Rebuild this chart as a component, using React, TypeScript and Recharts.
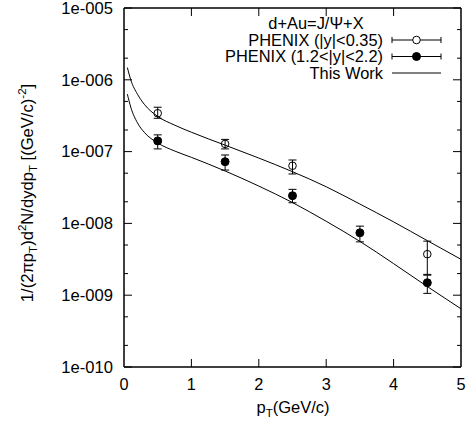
import React from 'react';
import { ComposedChart, Line, Scatter, ErrorBar, XAxis, YAxis } from 'recharts';

// ---- axes ----
const xTicks = [0, 1, 2, 3, 4, 5];
const yMajorTicks = [1e-10, 1e-9, 1e-8, 1e-7, 1e-6, 1e-5];
const yMajorLabels = ['1e-010', '1e-009', '1e-008', '1e-007', '1e-006', '1e-005'];
const yMinorTicks = [2e-10, 5e-10, 2e-9, 5e-9, 2e-8, 5e-8, 2e-7, 5e-7, 2e-6, 5e-6];

// ---- PHENIX |y|<0.35 (open circles) ----
const midX = [0.5, 1.5, 2.5, 4.5];
const midY = [3.42e-7, 1.28e-7, 6.35e-8, 3.73e-9];
const midLow = [2.91e-7, 1.09e-7, 4.88e-8, 1.95e-9];
const midHigh = [4.15e-7, 1.48e-7, 7.64e-8, 5.66e-9];

// ---- PHENIX 1.2<|y|<2.2 (filled circles) ----
const fwdX = [0.5, 1.5, 2.5, 3.5, 4.5];
const fwdY = [1.41e-7, 7.23e-8, 2.43e-8, 7.39e-9, 1.49e-9];
const fwdLow = [1.09e-7, 5.53e-8, 1.94e-8, 5.53e-9, 1.06e-9];
const fwdHigh = [1.71e-7, 8.97e-8, 2.98e-8, 9.16e-9, 1.9e-9];

// ---- This Work (curves) ----
const curveX = [0.05, 0.1, 0.2, 0.3, 0.5, 0.75, 1, 1.5, 2, 2.5, 3, 3.5, 4, 4.5, 5];
const curveMid = [1.48e-6, 1.0e-6, 6.3e-7, 4.57e-7, 3.09e-7, 2.34e-7, 1.86e-7, 1.23e-7, 8.13e-8, 5.25e-8, 3.24e-8, 1.86e-8, 1.05e-8, 5.75e-9, 3.16e-9];
const curveFwd = [6.31e-7, 4.17e-7, 2.51e-7, 1.86e-7, 1.32e-7, 1.02e-7, 8.32e-8, 5.37e-8, 3.31e-8, 1.95e-8, 1.07e-8, 5.62e-9, 2.75e-9, 1.32e-9, 6.46e-10];

const midData = midX.map((x, i) => ({ x, y: midY[i], err: [midY[i] - midLow[i], midHigh[i] - midY[i]] }));
const fwdData = fwdX.map((x, i) => ({ x, y: fwdY[i], err: [fwdY[i] - fwdLow[i], fwdHigh[i] - fwdY[i]] }));
const curveMidData = curveX.map((x, i) => ({ x, y: curveMid[i] }));
const curveFwdData = curveX.map((x, i) => ({ x, y: curveFwd[i] }));
const yAllTicks = [...yMajorTicks, ...yMinorTicks].sort((a, b) => a - b);

const FONT = '"Liberation Sans", Arial, Helvetica, sans-serif';
const AXW = 1.5;

const majorIndex = (v: number) => yMajorTicks.findIndex((m) => Math.abs(v / m - 1) < 1e-6);

const LeftTick = (props: any) => {
  const { x, y, payload } = props;
  const idx = majorIndex(payload.value);
  const major = idx >= 0;
  return (
    <g>
      <line x1={x} x2={x + (major ? 8 : 4)} y1={y} y2={y} stroke="#000" strokeWidth={1} />
      {major && (
        <text x={x - 11} y={y + 5.8} textAnchor="end" fontSize={16.6} fontFamily={FONT} fill="#000">
          {yMajorLabels[idx]}
        </text>
      )}
    </g>
  );
};

const RightTick = (props: any) => {
  const { x, y, payload } = props;
  const major = majorIndex(payload.value) >= 0;
  return <line x1={x} x2={x - (major ? 8 : 4)} y1={y} y2={y} stroke="#000" strokeWidth={1} />;
};

const BottomTick = (props: any) => {
  const { x, y, payload } = props;
  const inner = payload.value > 0 && payload.value < 5;
  return (
    <g>
      {inner && <line x1={x} x2={x} y1={y} y2={y - 8} stroke="#000" strokeWidth={1} />}
      <text x={x} y={y + 22.5} textAnchor="middle" fontSize={16.3} fontFamily={FONT} fill="#000">
        {payload.value}
      </text>
    </g>
  );
};

const TopTick = (props: any) => {
  const { x, y, payload } = props;
  const inner = payload.value > 0 && payload.value < 5;
  return inner ? <line x1={x} x2={x} y1={y} y2={y + 8} stroke="#000" strokeWidth={1} /> : <g />;
};

const YLabel = () => {
  const cx = 27;
  const cy = 193;
  return (
    <text
      transform={`translate(${cx + 5.5},${cy}) rotate(-90)`}
      textAnchor="middle"
      fontSize={16.6}
      fontFamily={FONT}
      fill="#000"
    >
      <tspan>1/(2πp</tspan>
      <tspan fontSize={11.5} dy={4}>T</tspan>
      <tspan dy={-4}>)d</tspan>
      <tspan fontSize={11.5} dy={-7}>2</tspan>
      <tspan dy={7}>N/dydp</tspan>
      <tspan fontSize={11.5} dy={4}>T</tspan>
      <tspan dy={-4}> [(GeV/c)</tspan>
      <tspan fontSize={11.5} dy={-7}>-2</tspan>
      <tspan dy={7}>]</tspan>
    </text>
  );
};

const XLabel = () => (
  <text x={293} y={413} textAnchor="middle" fontSize={16.5} fontFamily={FONT} fill="#000">
    <tspan>p</tspan>
    <tspan fontSize={11.5} dy={4}>T</tspan>
    <tspan dy={-4}>(GeV/c)</tspan>
  </text>
);

const OpenDot = (props: any) => (
  <circle cx={props.cx} cy={props.cy} r={3.8} fill="none" stroke="#000" strokeWidth={1} />
);
const FilledDot = (props: any) => <circle cx={props.cx} cy={props.cy} r={4} fill="#000" stroke="#000" />;

const LegendOverlay = () => {
  const textX = 383;
  const x1 = 392;
  const x2 = 441;
  const xm = 416.5;
  const rows = [40, 56.5, 73];
  const fs = 16.4;
  const t = (y: number) => y + 5.9;
  return (
    <svg
      width={471}
      height={423}
      style={{ position: 'absolute', left: 0, top: 0, pointerEvents: 'none' }}
    >
      <text x={316} y={t(23)} textAnchor="middle" fontSize={fs} fontFamily={FONT} fill="#000">
        d+Au=J/Ψ+X
      </text>
      <text x={textX} y={t(rows[0])} textAnchor="end" fontSize={fs} fontFamily={FONT} fill="#000">
        PHENIX (|y|&lt;0.35)
      </text>
      <line x1={x1} x2={x2} y1={rows[0]} y2={rows[0]} stroke="#000" />
      <line x1={x1} x2={x1} y1={rows[0] - 3} y2={rows[0] + 3} stroke="#000" />
      <line x1={x2} x2={x2} y1={rows[0] - 3} y2={rows[0] + 3} stroke="#000" />
      <circle cx={xm} cy={rows[0]} r={3.8} fill="#fff" stroke="#000" />
      <text x={textX} y={t(rows[1])} textAnchor="end" fontSize={fs} fontFamily={FONT} fill="#000">
        PHENIX (1.2&lt;|y|&lt;2.2)
      </text>
      <line x1={x1} x2={x2} y1={rows[1]} y2={rows[1]} stroke="#000" />
      <line x1={x1} x2={x1} y1={rows[1] - 3} y2={rows[1] + 3} stroke="#000" />
      <line x1={x2} x2={x2} y1={rows[1] - 3} y2={rows[1] + 3} stroke="#000" />
      <circle cx={xm} cy={rows[1]} r={4} fill="#000" stroke="#000" />
      <text x={textX} y={t(rows[2])} textAnchor="end" fontSize={fs} fontFamily={FONT} fill="#000">
        This Work
      </text>
      <line x1={x1} x2={x2} y1={rows[2]} y2={rows[2]} stroke="#000" />
    </svg>
  );
};

export default function App() {
  return (
    <div style={{ position: 'absolute', left: 0, top: 0, width: 471, height: 423, background: '#fff' }}>
      <ComposedChart width={471} height={423} margin={{ top: 7, right: 9, bottom: 0, left: 0 }}>
        <XAxis
          xAxisId="bottom"
          dataKey="x"
          type="number"
          domain={[0, 5]}
          ticks={xTicks}
          interval={0}
          allowDataOverflow
          height={56}
          tickSize={0}
          tickMargin={0}
          tickLine={false}
          tick={<BottomTick />}
          axisLine={{ stroke: '#000', strokeWidth: AXW }}
          label={<XLabel />}
        />
        <XAxis
          xAxisId="top"
          orientation="top"
          dataKey="x"
          type="number"
          domain={[0, 5]}
          ticks={xTicks}
          interval={0}
          allowDataOverflow
          height={1}
          tickSize={0}
          tickMargin={0}
          tickLine={false}
          tick={<TopTick />}
          axisLine={{ stroke: '#000', strokeWidth: AXW }}
        />
        <YAxis
          yAxisId="left"
          dataKey="y"
          type="number"
          scale="log"
          domain={[1e-10, 1e-5]}
          ticks={yAllTicks}
          interval={0}
          allowDataOverflow
          width={124}
          tickSize={0}
          tickMargin={0}
          tickLine={false}
          tick={<LeftTick />}
          axisLine={{ stroke: '#000', strokeWidth: AXW }}
          label={<YLabel />}
        />
        <YAxis
          yAxisId="right"
          orientation="right"
          dataKey="y"
          type="number"
          scale="log"
          domain={[1e-10, 1e-5]}
          ticks={yAllTicks}
          interval={0}
          allowDataOverflow
          width={1}
          tickSize={0}
          tickMargin={0}
          tickLine={false}
          tick={<RightTick />}
          axisLine={{ stroke: '#000', strokeWidth: AXW }}
        />
        <Line
          xAxisId="top"
          yAxisId="right"
          data={curveMidData}
          dataKey="y"
          type="monotone"
          stroke="#000"
          strokeWidth={1}
          dot={false}
          isAnimationActive={false}
        />
        <Line
          xAxisId="bottom"
          yAxisId="left"
          data={curveFwdData}
          dataKey="y"
          type="monotone"
          stroke="#000"
          strokeWidth={1}
          dot={false}
          isAnimationActive={false}
        />
        <Scatter
          xAxisId="bottom"
          yAxisId="left"
          data={midData}
          dataKey="y"
          shape={<OpenDot />}
          isAnimationActive={false}
        >
          <ErrorBar dataKey="err" direction="y" width={4} stroke="#000" strokeWidth={1} />
        </Scatter>
        <Scatter
          xAxisId="bottom"
          yAxisId="left"
          data={fwdData}
          dataKey="y"
          shape={<FilledDot />}
          isAnimationActive={false}
        >
          <ErrorBar dataKey="err" direction="y" width={4} stroke="#000" strokeWidth={1} />
        </Scatter>
      </ComposedChart>
      <LegendOverlay />
    </div>
  );
}
